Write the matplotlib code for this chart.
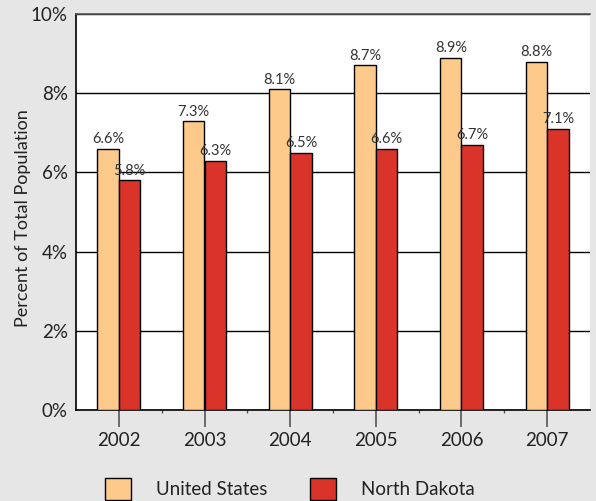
import matplotlib
matplotlib.use("Agg")
import matplotlib.pyplot as plt
from matplotlib.patches import Patch
from matplotlib.ticker import MultipleLocator, FuncFormatter
import numpy as np

years = ["2002", "2003", "2004", "2005", "2006", "2007"]
us_values = [6.6, 7.3, 8.1, 8.7, 8.9, 8.8]
nd_values = [5.8, 6.3, 6.5, 6.6, 6.7, 7.1]
series_names = ["United States", "North Dakota"]

us_color = "#fdca8b"
nd_color = "#d9332a"
bg = "#e6e6e6"
txt = "#222222"

plt.rcParams['font.family'] = ['Lato', 'DejaVu Sans']

fig = plt.figure(figsize=(5.96, 5.01), dpi=100, facecolor=bg)
ax = fig.add_axes([76/596, 1-410/501, (590-76)/596, (410-14)/501])
ax.set_facecolor("white")

x = np.arange(len(years))
w = 0.25
ax.bar(x - w/2, us_values, w, color=us_color, edgecolor="black", linewidth=1, zorder=3)
ax.bar(x + w/2, nd_values, w, color=nd_color, edgecolor="black", linewidth=1, zorder=3)

for xi, v in zip(x, us_values):
    ax.text(xi - w/2, v + 0.06, f"{v:.1f}%", ha="center", va="bottom", fontsize=10.5, color="#333333", zorder=4)
for xi, v in zip(x, nd_values):
    ax.text(xi + w/2, v + 0.06, f"{v:.1f}%", ha="center", va="bottom", fontsize=10.5, color="#333333", zorder=4)

ax.set_xlim(-0.5, len(years) - 0.5)
ax.set_ylim(0, 10)
ax.yaxis.set_major_locator(MultipleLocator(2))
ax.yaxis.set_major_formatter(FuncFormatter(lambda v, p: f"{v:.0f}%"))
ax.grid(axis="y", color="black", linewidth=1, zorder=0)
ax.set_axisbelow(True)

ax.set_xticks(x)
ax.set_xticklabels(years)
ax.set_xticks(np.arange(len(years) - 1) + 0.5, minor=True)
ax.tick_params(axis="x", which="major", length=12, width=1.2, color="#555555", labelsize=13.5, labelcolor=txt, pad=4)
ax.tick_params(axis="x", which="minor", length=2, width=1, color="#555555")
ax.tick_params(axis="y", length=0, labelsize=13.5, labelcolor=txt, pad=6)

ax.spines["right"].set_visible(False)
ax.spines["top"].set_color("#555555")
ax.spines["left"].set_color("black")
ax.spines["bottom"].set_color("black")
for s in ax.spines.values():
    s.set_linewidth(1.2)

fig.text(23/596, 1-218/501, "Percent of Total Population", rotation=90, ha="center", va="center",
         fontsize=13, color=txt)

handles = [Patch(facecolor=us_color, edgecolor="black", linewidth=1),
           Patch(facecolor=nd_color, edgecolor="black", linewidth=1)]
fig.legend(handles, series_names, loc="center left", bbox_to_anchor=(105/596, 1-489/501),
           ncol=2, frameon=False, fontsize=13.5, handlelength=1.4, handleheight=1.4,
           handletextpad=1.3, columnspacing=2.3, labelcolor=txt, borderaxespad=0, borderpad=0)

fig.savefig("out.png", dpi=100, facecolor=bg)
